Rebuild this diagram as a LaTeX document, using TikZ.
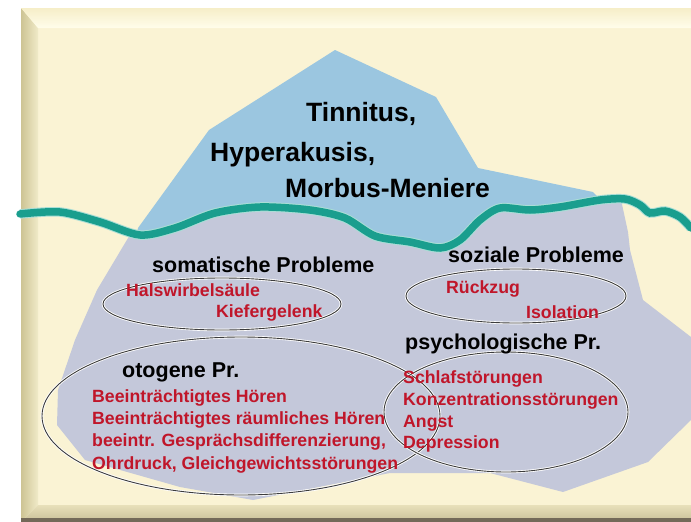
\documentclass[tikz,border=0pt]{standalone}
\usepackage{fontspec}
\setmainfont{Liberation Sans}
\definecolor{creme}{RGB}{250,243,212}
\definecolor{eisblau}{RGB}{155,198,224}
\definecolor{eisgrau}{RGB}{196,200,218}
\definecolor{welle}{RGB}{26,158,142}
\definecolor{wellerand}{RGB}{170,222,214}
\definecolor{rot}{RGB}{192,22,42}
\definecolor{linie}{RGB}{60,60,60}
\definecolor{kanteL1}{RGB}{205,196,148}
\definecolor{kanteL2}{RGB}{240,234,200}
\definecolor{kanteO1}{RGB}{246,238,200}
\definecolor{kanteO2}{RGB}{255,253,235}
\definecolor{kanteU1}{RGB}{232,224,186}
\definecolor{kanteU2}{RGB}{200,190,150}
\definecolor{kanteD}{RGB}{115,105,88}
\begin{document}
\begin{tikzpicture}[x=1pt,y=-1pt,
	titel/.style={font=\fontsize{26.5}{30}\selectfont\bfseries, anchor=west, inner sep=0pt, text height=19pt, text depth=0pt},
	kopf/.style={font=\fontsize{21.5}{24}\selectfont\bfseries, anchor=west, inner sep=0pt, text height=15.4pt, text depth=0pt},
	punkt/.style={font=\fontsize{17.7}{20}\selectfont\bfseries, text=rot, anchor=west, inner sep=0pt, text height=12.7pt, text depth=0pt},
	kreis/.style={draw=linie, line width=0.9pt, preaction={draw=white, line width=2.6pt}}]
	\useasboundingbox (0,0) rectangle (691,522);
	% Vẽ nền
	\fill[white] (0,0) rectangle (691,522);
	\fill[creme] (21,8) rectangle (691,522);
	\shade[left color=kanteL1, right color=kanteL2] (21,8) -- (38,28) -- (38,505) -- (21,522) -- cycle;
	\shade[top color=kanteO1, bottom color=kanteO2] (21,8) -- (691,8) -- (691,28) -- (38,28) -- cycle;
	\shade[top color=kanteU1, bottom color=kanteU2] (21,522) -- (38,505) -- (691,505) -- (691,522) -- cycle;
	\fill[kanteD] (21,518) rectangle (691,522);
	
	% Vẽ tảng băng
	\fill[eisblau] (138,228) -- (209,130) -- (335,50) -- (436,97) -- (478,168) -- (593,192) -- (614,214) -- (614,256) -- (132,256) -- cycle;
	\begin{scope}
		\clip plot[smooth] coordinates {(20,214) (60,212) (100,222) (140,235) (175,228) (215,213) (260,207) (310,210) (345,218) (375,236) (410,242) (440,248) (460,240) (480,220) (500,208) (530,210) (560,207) (600,200) (625,199) (640,205) (650,213) (665,211) (680,217) (691,228)} -- (691,522) -- (20,522) -- cycle;
		\fill[eisgrau] (145,195) -- (620,195) -- (628,232) -- (630,250) -- (643,300) -- (691,337) -- (691,420) -- (648,462) -- (563,492) -- (490,473) -- (390,473) -- (253,500) -- (180,487) -- (85,460) -- (57,425) -- (58,390) -- (75,340) -- (97,290) -- (140,218) -- cycle;
	\end{scope}
	
	% Vẽ mặt nước
	\draw[welle, line width=7.5pt, line cap=round, preaction={draw=wellerand, line width=9.5pt}] plot[smooth] coordinates {(20,214) (60,212) (100,222) (140,235) (175,228) (215,213) (260,207) (310,210) (345,218) (375,236) (410,242) (440,248) (460,240) (480,220) (500,208) (530,210) (560,207) (600,200) (625,199) (640,205) (650,213) (665,211) (680,217) (691,228)};
	
	% Vẽ các hình elip
	\draw[kreis] (222,304) ellipse [x radius=119, y radius=26];
	\draw[kreis] (516,296) ellipse [x radius=110, y radius=27];
	\draw[kreis] (241,416) ellipse [x radius=199, y radius=79];
	\draw[kreis] (506,412) ellipse [x radius=122, y radius=60];
	
	% Ghi chữ
	\node[titel] (tinnitus) at (306,112) {Tinnitus,};
	\node[titel] (hyperakusis) at (210,152) {Hyperakusis,};
	\node[titel] (morbus) at (285,188) {Morbus-Meniere};
	
	\node[kopf] (somatisch) at (152,265) {somatische Probleme};
	\node[kopf] (sozial) at (448,255) {soziale Probleme};
	\node[kopf] (psycho) at (405,342) {psychologische Pr.};
	\node[kopf] (otogen) at (122,370) {otogene Pr.};
	
	\node[punkt] (hws) at (126,290) {Halswirbelsäule};
	\node[punkt] (kiefer) at (216,311) {Kiefergelenk};
	\node[punkt] (rueckzug) at (446,287) {Rückzug};
	\node[punkt] (isolation) at (526,312) {Isolation};
	\node[punkt] (schlaf) at (403,377) {Schlafstörungen};
	\node[punkt] (konzentration) at (403,399) {Konzentrationsstörungen};
	\node[punkt] (angst) at (403,421) {Angst};
	\node[punkt] (depression) at (403,442) {Depression};
	\node[punkt] (hoeren) at (92,396) {Beeinträchtigtes Hören};
	\node[punkt] (raeumlich) at (92,418) {Beeinträchtigtes räumliches Hören};
	\node[punkt] (gespraech) at (92,440) {beeintr. Gesprächsdifferenzierung,};
	\node[punkt] (ohrdruck) at (92,463) {Ohrdruck, Gleichgewichtsstörungen};
\end{tikzpicture}
\end{document}
